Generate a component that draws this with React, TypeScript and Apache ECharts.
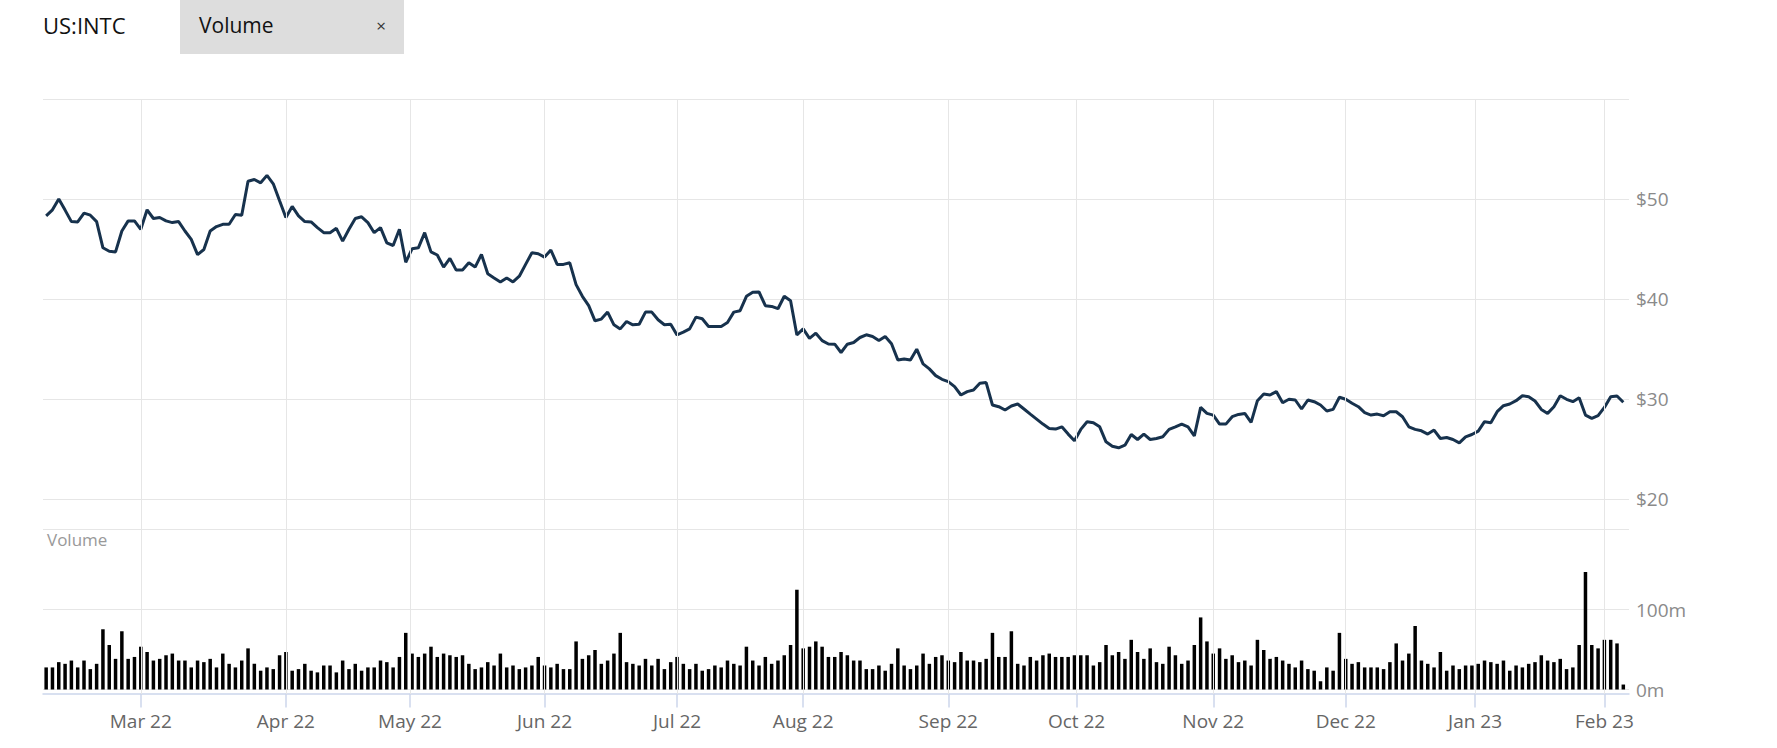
import React, { useEffect, useRef } from "react";
import * as echarts from "echarts";

const ticker = "US:INTC";
const indicatorName = "Volume";

const tradingDays: string[] = [
  "2022-02-07","2022-02-08","2022-02-09","2022-02-10","2022-02-11","2022-02-14","2022-02-15","2022-02-16","2022-02-17","2022-02-18","2022-02-22","2022-02-23","2022-02-24","2022-02-25","2022-02-28",
  "2022-03-01","2022-03-02","2022-03-03","2022-03-04","2022-03-07","2022-03-08","2022-03-09","2022-03-10","2022-03-11","2022-03-14","2022-03-15","2022-03-16","2022-03-17","2022-03-18","2022-03-21","2022-03-22","2022-03-23","2022-03-24","2022-03-25","2022-03-28","2022-03-29","2022-03-30","2022-03-31",
  "2022-04-01","2022-04-04","2022-04-05","2022-04-06","2022-04-07","2022-04-08","2022-04-11","2022-04-12","2022-04-13","2022-04-14","2022-04-18","2022-04-19","2022-04-20","2022-04-21","2022-04-22","2022-04-25","2022-04-26","2022-04-27","2022-04-28","2022-04-29",
  "2022-05-02","2022-05-03","2022-05-04","2022-05-05","2022-05-06","2022-05-09","2022-05-10","2022-05-11","2022-05-12","2022-05-13","2022-05-16","2022-05-17","2022-05-18","2022-05-19","2022-05-20","2022-05-23","2022-05-24","2022-05-25","2022-05-26","2022-05-27","2022-05-31",
  "2022-06-01","2022-06-02","2022-06-03","2022-06-06","2022-06-07","2022-06-08","2022-06-09","2022-06-10","2022-06-13","2022-06-14","2022-06-15","2022-06-16","2022-06-17","2022-06-21","2022-06-22","2022-06-23","2022-06-24","2022-06-27","2022-06-28","2022-06-29","2022-06-30",
  "2022-07-01","2022-07-05","2022-07-06","2022-07-07","2022-07-08","2022-07-11","2022-07-12","2022-07-13","2022-07-14","2022-07-15","2022-07-18","2022-07-19","2022-07-20","2022-07-21","2022-07-22","2022-07-25","2022-07-26","2022-07-27","2022-07-28","2022-07-29",
  "2022-08-01","2022-08-02","2022-08-03","2022-08-04","2022-08-05","2022-08-08","2022-08-09","2022-08-10","2022-08-11","2022-08-12","2022-08-15","2022-08-16","2022-08-17","2022-08-18","2022-08-19","2022-08-22","2022-08-23","2022-08-24","2022-08-25","2022-08-26","2022-08-29","2022-08-30","2022-08-31",
  "2022-09-01","2022-09-02","2022-09-06","2022-09-07","2022-09-08","2022-09-09","2022-09-12","2022-09-13","2022-09-14","2022-09-15","2022-09-16","2022-09-19","2022-09-20","2022-09-21","2022-09-22","2022-09-23","2022-09-26","2022-09-27","2022-09-28","2022-09-29","2022-09-30",
  "2022-10-03","2022-10-04","2022-10-05","2022-10-06","2022-10-07","2022-10-10","2022-10-11","2022-10-12","2022-10-13","2022-10-14","2022-10-17","2022-10-18","2022-10-19","2022-10-20","2022-10-21","2022-10-24","2022-10-25","2022-10-26","2022-10-27","2022-10-28","2022-10-31",
  "2022-11-01","2022-11-02","2022-11-03","2022-11-04","2022-11-07","2022-11-08","2022-11-09","2022-11-10","2022-11-11","2022-11-14","2022-11-15","2022-11-16","2022-11-17","2022-11-18","2022-11-21","2022-11-22","2022-11-23","2022-11-25","2022-11-28","2022-11-29","2022-11-30",
  "2022-12-01","2022-12-02","2022-12-05","2022-12-06","2022-12-07","2022-12-08","2022-12-09","2022-12-12","2022-12-13","2022-12-14","2022-12-15","2022-12-16","2022-12-19","2022-12-20","2022-12-21","2022-12-22","2022-12-23","2022-12-27","2022-12-28","2022-12-29","2022-12-30",
  "2023-01-03","2023-01-04","2023-01-05","2023-01-06","2023-01-09","2023-01-10","2023-01-11","2023-01-12","2023-01-13","2023-01-17","2023-01-18","2023-01-19","2023-01-20","2023-01-23","2023-01-24","2023-01-25","2023-01-26","2023-01-27","2023-01-30","2023-01-31",
  "2023-02-01","2023-02-02","2023-02-03","2023-02-06",
];

// Closing price, USD
const closePrices: number[] = [
  48.32,48.92,50.0,48.89,47.74,47.71,48.59,48.38,47.74,45.12,44.78,44.71,46.8,47.81,47.81,
  46.97,48.92,48.05,48.15,47.81,47.64,47.74,46.8,45.96,44.44,44.95,46.8,47.24,47.47,47.47,48.45,48.38,51.78,51.95,51.62,52.36,51.52,49.83,
  48.15,49.26,48.32,47.74,47.71,47.14,46.63,46.63,47.07,45.79,46.97,48.05,48.22,47.64,46.63,47.14,45.62,45.35,46.97,43.67,
  45.02,45.12,46.63,44.71,44.4,43.19,44.06,42.89,42.89,43.62,43.19,44.46,42.52,42.11,41.71,42.11,41.71,42.28,43.46,44.63,44.53,
  44.19,44.9,43.46,43.46,43.62,41.44,40.27,39.33,37.82,37.99,38.69,37.42,37.01,37.75,37.42,37.48,38.69,38.69,37.92,37.42,37.48,
  36.41,36.68,37.01,38.19,38.02,37.25,37.25,37.25,37.65,38.69,38.83,40.27,40.67,40.7,39.33,39.26,39.03,40.27,39.83,36.41,
  37.01,36.07,36.58,35.84,35.5,35.48,34.65,35.48,35.65,36.15,36.42,36.25,35.85,36.25,35.52,33.91,34.01,33.91,34.98,33.51,33.01,32.34,31.97,
  31.74,31.24,30.4,30.74,30.9,31.57,31.64,29.4,29.23,28.9,29.3,29.5,29.0,28.49,27.99,27.49,27.06,26.99,27.22,26.49,25.82,
  26.96,27.73,27.63,27.22,25.72,25.28,25.12,25.38,26.45,25.95,26.49,25.95,26.05,26.22,26.96,27.22,27.49,27.22,26.32,29.16,28.56,
  28.39,27.49,27.49,28.23,28.46,28.56,27.66,29.83,30.5,30.4,30.74,29.63,29.97,29.9,29.0,29.9,29.73,29.4,28.8,28.96,30.17,
  29.97,29.57,29.23,28.63,28.39,28.49,28.33,28.73,28.73,28.23,27.22,26.96,26.82,26.49,26.89,26.05,26.15,25.95,25.62,26.22,26.45,
  26.79,27.73,27.63,28.73,29.33,29.5,29.83,30.33,30.23,29.8,28.96,28.56,29.23,30.33,29.97,29.73,30.13,28.39,28.06,28.33,
  29.16,30.23,30.3,29.67,
];

// Volume, millions of shares
const volumesM: number[] = [
  27.6,27.6,34.2,32.1,36.2,27.6,36.2,25.5,32.1,75.3,55.6,38.3,72.8,38.3,40.7,
  53.5,46.9,36.2,38.3,42.8,44.9,36.2,36.2,27.6,36.2,34.2,38.3,27.6,44.9,32.1,27.6,36.2,51.4,32.1,23.5,27.6,25.5,42.8,
  46.9,23.5,25.5,32.1,23.5,21.4,30.0,30.0,21.4,36.2,25.5,32.1,23.5,27.6,27.6,36.2,34.2,27.6,40.7,70.8,
  44.9,40.7,44.9,53.5,40.7,44.9,42.8,40.7,42.8,32.1,25.5,27.6,34.2,30.0,44.9,27.6,30.0,25.5,27.6,30.0,40.7,
  30.0,27.6,32.1,25.5,25.5,60.1,38.3,42.8,49.4,32.1,36.2,44.9,70.8,34.2,32.1,30.0,38.3,30.0,38.3,25.5,34.2,
  40.7,32.1,25.5,32.1,23.5,25.5,30.0,27.6,36.2,32.1,30.0,53.5,36.2,30.0,40.7,32.1,36.2,42.8,55.6,124.7,
  51.4,53.5,60.1,53.5,40.7,40.7,46.9,42.8,36.2,36.2,25.5,25.5,30.0,23.5,32.1,51.4,30.0,25.5,30.0,44.9,32.1,40.7,42.8,
  36.2,34.2,46.9,36.2,36.2,34.2,38.3,70.8,40.7,40.7,72.8,32.1,30.0,40.7,36.2,42.8,44.9,40.7,40.7,40.7,42.8,
  42.8,42.8,30.0,34.2,55.6,42.8,46.9,38.3,62.1,46.9,38.3,51.4,34.2,32.1,53.5,42.8,32.1,36.2,55.6,90.1,60.1,
  44.9,51.4,38.3,42.8,34.2,36.2,30.0,62.1,49.4,38.3,40.7,36.2,32.1,27.6,36.2,25.5,23.5,10.3,27.6,23.5,70.8,
  38.3,32.1,34.2,27.6,27.6,27.6,25.5,34.2,57.6,36.2,44.9,79.4,36.2,32.1,27.6,46.9,23.5,30.0,25.5,30.0,30.0,
  32.1,36.2,34.2,32.1,36.2,23.5,30.0,27.6,32.1,34.2,42.8,36.2,34.2,38.3,25.5,27.6,55.6,146.9,55.6,51.4,
  62.1,62.1,57.6,6.2,
];

const monthStarts: string[] = [
  "2022-03-01","2022-04-01","2022-05-01","2022-06-01","2022-07-01","2022-08-01",
  "2022-09-01","2022-10-01","2022-11-01","2022-12-01","2023-01-01","2023-02-01",
];
const monthLabels: string[] = [
  "Mar 22","Apr 22","May 22","Jun 22","Jul 22","Aug 22",
  "Sep 22","Oct 22","Nov 22","Dec 22","Jan 23","Feb 23",
];

const priceMin = 20;
const priceMax = 60;
const priceStep = 10;
const volMax = 200;
const volStep = 100;

// month boundaries placed on the trading-day scale (interpolated by time when the 1st is a non-trading day)
function monthPositions(): number[] {
  const t = tradingDays.map((d) => Date.parse(d + "T00:00:00Z"));
  return monthStarts.map((ms) => {
    const m = Date.parse(ms + "T00:00:00Z");
    const k = t.findIndex((v) => v >= m);
    if (k <= 0 || t[k] === m) return k;
    return k - 1 + (m - t[k - 1]) / (t[k] - t[k - 1]);
  });
}

const FONT = "'Open Sans', 'Noto Sans', sans-serif";

export default function App() {
  const ref = useRef<HTMLDivElement>(null);

  useEffect(() => {
    if (!ref.current) return;
    const chart = echarts.init(ref.current, undefined, { renderer: "svg" });
    const pos = monthPositions();
    const labelFor = (v: number) => {
      let best = 0;
      for (let j = 1; j < pos.length; j++) {
        if (Math.abs(pos[j] - v) < Math.abs(pos[best] - v)) best = j;
      }
      return monthLabels[best];
    };
    const X_MIN = -0.5;
    const X_MAX = 250.9;
    const gridLeft = 43;
    const gridWidth = 1586;

    chart.setOption({
      animation: false,
      textStyle: { fontFamily: FONT },
      grid: [
        { left: gridLeft, top: 99, width: gridWidth, height: 400 },
        { left: gridLeft, top: 529.5, width: gridWidth, height: 160 },
        { left: gridLeft, top: 99, width: gridWidth, height: 595 },
      ],
      xAxis: [
        { type: "value", gridIndex: 0, min: X_MIN, max: X_MAX, show: false },
        {
          type: "value",
          gridIndex: 1,
          min: X_MIN,
          max: X_MAX,
          offset: 4,
          axisLine: { show: true, onZero: false, lineStyle: { color: "#ccd6eb", width: 1.5 } },
          axisTick: { show: true, customValues: pos, length: 14, lineStyle: { color: "#ccd6eb", width: 1.5 } },
          axisLabel: {
            customValues: pos,
            formatter: labelFor,
            color: "#666666",
            fontSize: 19,
            fontFamily: FONT,
            margin: 18,
          },
          splitLine: { show: false },
        },
        { type: "value", gridIndex: 2, min: X_MIN, max: X_MAX, show: false },
      ],
      yAxis: [
        {
          type: "value",
          gridIndex: 0,
          position: "right",
          min: priceMin,
          max: priceMax,
          interval: priceStep,
          axisLine: { show: false },
          axisTick: { show: false },
          axisLabel: {
            formatter: (v: number) => "$" + v,
            showMaxLabel: false,
            color: "#8a8a8a",
            fontSize: 19,
            fontFamily: FONT,
            margin: 7,
          },
          splitLine: { lineStyle: { color: "#e6e6e6", width: 1 } },
        },
        {
          type: "value",
          gridIndex: 1,
          position: "right",
          min: 0,
          max: volMax,
          interval: volStep,
          axisLine: { show: false },
          axisTick: { show: false },
          axisLabel: {
            formatter: (v: number) => v + "m",
            showMaxLabel: false,
            color: "#8a8a8a",
            fontSize: 19,
            fontFamily: FONT,
            margin: 7,
          },
          splitLine: { lineStyle: { color: "#e6e6e6", width: 1 } },
        },
        { type: "value", gridIndex: 2, min: 0, max: 1, show: false },
      ],
      series: [
        {
          type: "line",
          xAxisIndex: 2,
          yAxisIndex: 2,
          data: [],
          z: 0,
          silent: true,
          markLine: {
            silent: true,
            symbol: ["none", "none"],
            label: { show: false },
            lineStyle: { color: "#e6e6e6", type: "solid", width: 1 },
            data: pos.map((p) => ({ xAxis: p })),
          },
        },
        {
          type: "bar",
          name: indicatorName,
          xAxisIndex: 1,
          yAxisIndex: 1,
          data: volumesM.map((v, i) => [i, v]),
          barWidth: 3.5,
          itemStyle: { color: "#000000" },
          clip: false,
          z: 2,
        },
        {
          type: "line",
          name: ticker,
          xAxisIndex: 0,
          yAxisIndex: 0,
          data: closePrices.map((p, i) => [i, p]),
          showSymbol: false,
          symbol: "none",
          lineStyle: { color: "#17324d", width: 3 },
          z: 3,
        },
      ],
      graphic: [
        { type: "rect", shape: { x: 180, y: 0, width: 224, height: 54 }, style: { fill: "#dddddd" } },
        {
          type: "text",
          x: 43,
          y: 25,
          style: { text: ticker, fontSize: 22, fontFamily: FONT, fill: "#111111", verticalAlign: "middle", align: "left" },
        },
        {
          type: "text",
          x: 199,
          y: 25,
          style: { text: indicatorName, fontSize: 21, fontFamily: FONT, fill: "#111111", verticalAlign: "middle", align: "left" },
        },
        {
          type: "text",
          x: 381,
          y: 25,
          style: { text: "×", fontSize: 17, fontFamily: FONT, fill: "#333333", verticalAlign: "middle", align: "center" },
        },
        {
          type: "text",
          x: 47,
          y: 539,
          style: { text: indicatorName, fontSize: 17, fontFamily: FONT, fill: "#999999", verticalAlign: "middle", align: "left" },
        },
      ],
    });
    return () => chart.dispose();
  }, []);

  return (
    <div
      ref={ref}
      style={{ position: "fixed", left: 0, top: 0, width: 1777, height: 748, background: "#ffffff" }}
    />
  );
}
